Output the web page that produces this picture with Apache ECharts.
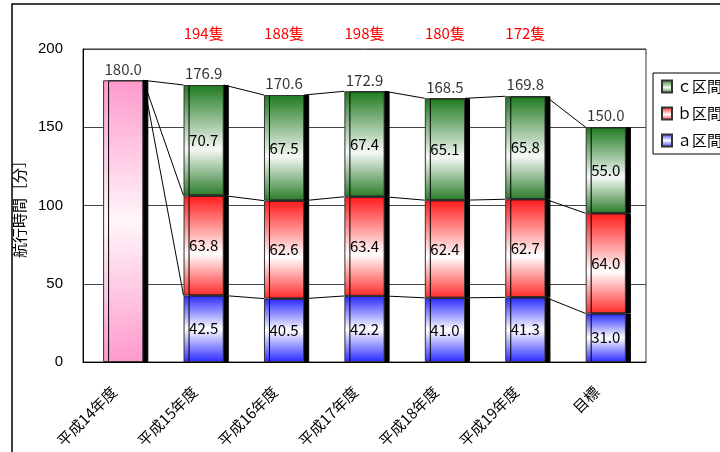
<!DOCTYPE html>
<html>
<head>
<meta charset="utf-8">
<script src="https://cdn.jsdelivr.net/npm/echarts@6/dist/echarts.min.js"></script>
<style>
  html, body { margin: 0; padding: 0; background: #fff; }
  #main { width: 720px; height: 452px; }
</style>
</head>
<body>
<div id="main"></div>
<script>
  // 区分と値
  const categories = ['平成14年度', '平成15年度', '平成16年度', '平成17年度', '平成18年度', '平成19年度', '目標'];
  const shipCounts = ['', '194隻', '188隻', '198隻', '180隻', '172隻', ''];
  const base14 = [180.0, '-', '-', '-', '-', '-', '-'];
  const aValues = ['-', 42.5, 40.5, 42.2, 41.0, 41.3, 31.0];
  const bValues = ['-', 63.8, 62.6, 63.4, 62.4, 62.7, 64.0];
  const cValues = ['-', 70.7, 67.5, 67.4, 65.1, 65.8, 55.0];
  const totals = [180.0, 176.9, 170.6, 172.9, 168.5, 169.8, 150.0];

  const font = '"Noto Sans CJK JP", sans-serif';

  function grad(stops) {
    return new echarts.graphic.LinearGradient(0, 0, 0, 1,
      stops.map(function (s) { return { offset: s[0], color: s[1] }; }));
  }

  // 系列線の各レベル (a, a+b, 合計)
  function levels(i) {
    if (i === 0) return [base14[0], base14[0], base14[0]];
    const a = aValues[i], b = bValues[i], c = cValues[i];
    return [a, a + b, a + b + c];
  }
  const linkData = [];
  for (let i = 0; i < categories.length - 1; i++) {
    const l0 = levels(i), l1 = levels(i + 1);
    for (let k = 0; k < 3; k++) linkData.push([i, l0[k], l1[k]]);
  }

  const barStyle = function (stops) {
    return {
      color: grad(stops),
      borderColor: '#333',
      borderWidth: 1,
      shadowColor: '#000',
      shadowOffsetX: 5,
      shadowOffsetY: 0,
      shadowBlur: 0
    };
  };
  const innerLabel = {
    show: true,
    position: 'inside',
    color: '#000',
    fontSize: 15,
    fontFamily: font,
    formatter: function (p) { return p.value.toFixed(1); }
  };

  const chart = echarts.init(document.getElementById('main'));
  chart.setOption({
    animation: false,
    textStyle: { fontFamily: font },
    graphic: [{
      type: 'rect',
      shape: { x: 12, y: 4, width: 740, height: 480 },
      style: { fill: 'none', stroke: '#000', lineWidth: 1.5 },
      silent: true
    }],
    grid: {
      left: 83, right: 74, top: 49, bottom: 90,
      show: true, borderColor: '#333', borderWidth: 1
    },
    legend: {
      data: ['ｃ区間', 'ｂ区間', 'ａ区間'],
      orient: 'vertical',
      left: 653, top: 73,
      itemWidth: 10, itemHeight: 12, itemGap: 12,
      padding: [6, 40, 6, 8],
      borderColor: '#000', borderWidth: 1,
      icon: 'rect',
      textStyle: { fontSize: 15, color: '#000', fontFamily: font }
    },
    xAxis: [{
      type: 'category',
      data: categories,
      axisLine: { lineStyle: { color: '#000' } },
      axisTick: { inside: true, length: 5, lineStyle: { color: '#000' } },
      axisLabel: { rotate: 45, fontSize: 15, color: '#000', margin: 18, interval: 0, padding: [0, 13, 0, 0] }
    }, {
      type: 'category',
      position: 'top',
      data: shipCounts,
      axisLine: { show: false },
      axisTick: { show: false },
      axisLabel: { color: '#ff0000', fontSize: 15, margin: 8, interval: 0 }
    }],
    yAxis: {
      type: 'value',
      min: 0, max: 200, interval: 50,
      name: '航行時間［分］',
      nameLocation: 'middle',
      nameGap: 52,
      nameTextStyle: { fontSize: 15, color: '#000' },
      axisLine: { show: true, lineStyle: { color: '#000' } },
      axisTick: { show: false },
      axisLabel: { fontSize: 15, color: '#000', margin: 20, fontFamily: '"Liberation Sans", sans-serif' },
      splitLine: { lineStyle: { color: '#444' } }
    },
    series: [
      {
        name: '平成14年度', type: 'bar', stack: 'x', barWidth: '50%',
        data: base14,
        itemStyle: barStyle([[0, '#ff99cc'], [0.5, '#fff6fa'], [1, '#ff99cc']])
      },
      {
        name: 'ａ区間', type: 'bar', stack: 'x', barWidth: '50%',
        data: aValues,
        itemStyle: barStyle([[0, '#2828ff'], [0.5, '#ffffff'], [1, '#2a2aff']]),
        label: innerLabel
      },
      {
        name: 'ｂ区間', type: 'bar', stack: 'x', barWidth: '50%',
        data: bValues,
        itemStyle: barStyle([[0, '#ff1a1a'], [0.58, '#ffffff'], [1, '#ff2a2a']]),
        label: innerLabel
      },
      {
        name: 'ｃ区間', type: 'bar', stack: 'x', barWidth: '50%',
        data: cValues,
        itemStyle: barStyle([[0, '#1e7a1e'], [0.58, '#f6f9f6'], [1, '#2a7c2a']]),
        label: innerLabel
      },
      {
        name: '合計', type: 'scatter',
        data: totals,
        symbolSize: 0,
        label: {
          show: true, position: 'top', distance: 4,
          color: '#000', fontSize: 15, fontFamily: font,
          formatter: function (p) { return p.value.toFixed(1); }
        },
        z: 5
      },
      {
        name: '系列線', type: 'custom',
        data: linkData,
        silent: true,
        z: 4,
        renderItem: function (params, api) {
          const i = api.value(0);
          const half = api.size([1, 0])[0] * 0.25;
          const p0 = api.coord([i, api.value(1)]);
          const p1 = api.coord([i + 1, api.value(2)]);
          return {
            type: 'line',
            shape: { x1: p0[0] + half, y1: p0[1], x2: p1[0] - half, y2: p1[1] },
            style: { stroke: '#000', lineWidth: 1 }
          };
        }
      }
    ]
  });
</script>
</body>
</html>
